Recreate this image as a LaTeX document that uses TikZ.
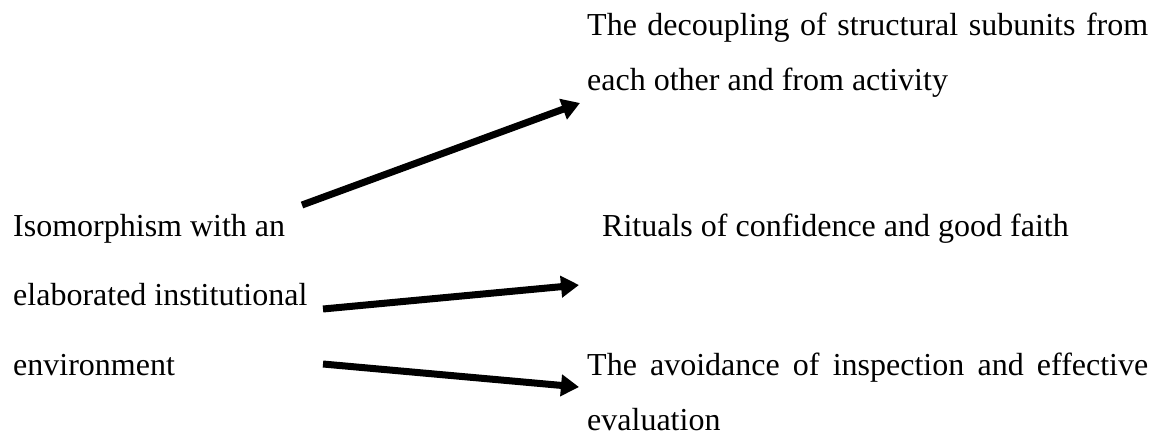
\documentclass[tikz,border=0pt]{standalone}
\usepackage{fontspec}
\setmainfont{Liberation Serif}
\usetikzlibrary{arrows.meta}
\begin{document}
\begin{tikzpicture}[x=1pt,y=-1pt,
  lbl/.style={anchor=base west, inner sep=0pt, font=\fontsize{32}{38}\selectfont},
  link/.style={line width=7pt, -{Triangle[length=18pt,width=21pt]}}]
\useasboundingbox (0,0) rectangle (1159,437);

% source phrase, one node per printed line
\node[lbl] (src1) at (13,236) {Isomorphism with an};
\node[lbl] (src2) at (13,305) {elaborated institutional};
\node[lbl] (src3) at (13,375) {environment};

% outcomes
\node[lbl] (dec1) at (587,35) {\makebox[561pt][s]{The decoupling of structural subunits from}};
\node[lbl] (dec2) at (587,90) {each other and from activity};
\node[lbl] (rit)  at (602,236) {Rituals of confidence and good faith};
\node[lbl] (avo1) at (587,375) {\makebox[561pt][s]{The avoidance of inspection and effective}};
\node[lbl] (avo2) at (587,430) {evaluation};

% arrow ends
\coordinate (a1s) at (302,205);
\coordinate (a1e) at (580,103);
\coordinate (a2s) at (323,309);
\coordinate (a2e) at (579,285);
\coordinate (a3s) at (323,364);
\coordinate (a3e) at (579,387);

\draw[link] (a1s) -- (a1e);
\draw[link] (a2s) -- (a2e);
\draw[link] (a3s) -- (a3e);
\end{tikzpicture}
\end{document}
